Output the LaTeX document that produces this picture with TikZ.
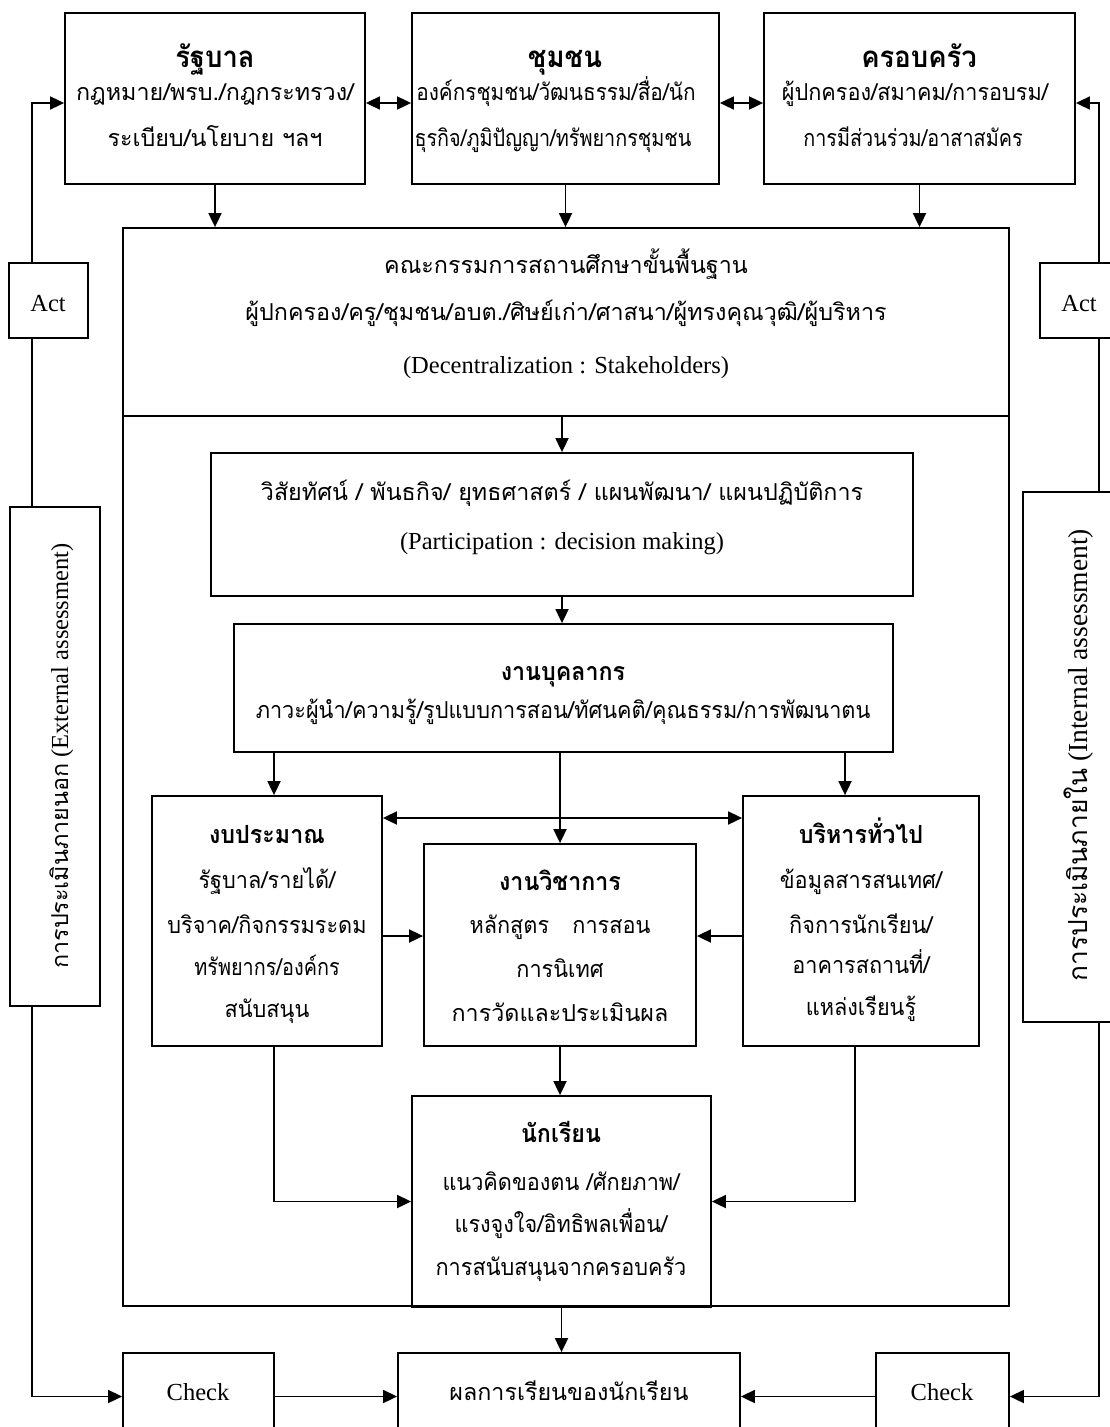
\documentclass[tikz,border=0pt]{standalone}
\usepackage{fontspec}
\setmainfont{Liberation Serif}
\newfontfamily\thai[Script=Thai,FakeStretch=0.93]{Loma}
\newfontfamily\thaim[Script=Thai,FakeStretch=0.89]{Loma}
\newfontfamily\thaic[Script=Thai,FakeStretch=0.85]{Loma}
\newfontfamily\thaiw[Script=Thai]{Loma}
\usetikzlibrary{arrows.meta}
\begin{document}
\begin{tikzpicture}[x=1pt,y=-1pt,
  box/.style={draw,line width=1.8pt,rectangle,inner sep=0pt},
  arr/.style={line width=1.8pt,-{Triangle[length=14pt,width=13pt]}},
  darr/.style={line width=1.8pt,{Triangle[length=14pt,width=13pt]}-{Triangle[length=14pt,width=13pt]}},
  ln/.style={line width=1.8pt},
  th/.style={anchor=base,inner sep=0pt,font=\thai\fontsize{23.3}{27}\selectfont},
  thm/.style={anchor=base,inner sep=0pt,font=\thaim\fontsize{23.3}{27}\selectfont},
  thc/.style={anchor=base,inner sep=0pt,font=\thaic\fontsize{23.3}{27}\selectfont},
  thw/.style={anchor=base,inner sep=0pt,font=\thaiw\fontsize{23.3}{27}\selectfont},
  thb/.style={anchor=base,inner sep=0pt,font=\thai\bfseries\fontsize{25}{29}\selectfont},
  tht/.style={anchor=base,inner sep=0pt,font=\thai\bfseries\fontsize{29.5}{33}\selectfont},
  lat/.style={anchor=base,inner sep=0pt,font=\fontsize{24.5}{28}\selectfont},
]
\useasboundingbox (0,0) rectangle (1109,1427);

% helper coordinates
\coordinate (lx) at (32,0);
\coordinate (rx) at (1099,0);
\coordinate (bx) at (274,0);
\coordinate (ax) at (845,0);
\coordinate (ax2) at (855,0);
\coordinate (dy) at (0,818);
\coordinate (my) at (0,936);

% boxes
\node[box,minimum width=300,minimum height=171] (gov) at (215,98.5) {};
\node[box,minimum width=307,minimum height=171] (com) at (565.5,98.5) {};
\node[box,minimum width=311,minimum height=171] (fam) at (919.5,98.5) {};
\node[box,minimum width=886,minimum height=1078] (big) at (566,767) {};
\node[box,minimum width=886,minimum height=188] (board) at (566,322) {};
\node[box,minimum width=79,minimum height=75] (actL) at (48.5,300.5) {};
\node[box,minimum width=90,minimum height=75] (actR) at (1085,300.5) {};
\node[box,minimum width=90,minimum height=499] (extL) at (55,756.5) {};
\node[box,minimum width=112,minimum height=530] (intR) at (1079,757) {};
\node[box,minimum width=702,minimum height=143] (vis) at (562,524.5) {};
\node[box,minimum width=659,minimum height=128] (pers) at (563.5,688) {};
\node[box,minimum width=230,minimum height=250] (bud) at (267,921) {};
\node[box,minimum width=236,minimum height=250] (adm) at (861,921) {};
\node[box,minimum width=272,minimum height=202] (aca) at (560,945) {};
\node[box,minimum width=299,minimum height=211] (stu) at (561.5,1201.5) {};
\node[box,minimum width=151,minimum height=87] (chkL) at (198.5,1396.5) {};
\node[box,minimum width=342,minimum height=87] (res) at (569,1396.5) {};
\node[box,minimum width=133,minimum height=87] (chkR) at (942.5,1396.5) {};

% texts
\node[tht] at (215,67) {รัฐบาล};
\node[thw] at (215,100) {กฎหมาย/พรบ./กฎกระทรวง/};
\node[thw] at (215,146) {ระเบียบ/นโยบาย ฯลฯ};
\node[tht] at (565,67) {ชุมชน};
\node[thm] at (556,100) {องค์กรชุมชน/วัฒนธรรม/สื่อ/นัก};
\node[thc] at (553,146) {ธุรกิจ/ภูมิปัญญา/ทรัพยากรชุมชน};
\node[tht] at (919,67) {ครอบครัว};
\node[th] at (915,100) {ผู้ปกครอง/สมาคม/การอบรม/};
\node[thc] at (913,146) {การมีส่วนร่วม/อาสาสมัคร};

\node[thw] at (566,273) {คณะกรรมการสถานศึกษาขั้นพื้นฐาน};
\node[thw] at (566,320) {ผู้ปกครอง/ครู/ชุมชน/อบต./ศิษย์เก่า/ศาสนา/ผู้ทรงคุณวุฒิ/ผู้บริหาร};
\node[lat] at (566,373) {(Decentralization : Stakeholders)};

\node[thw] at (562,500) {วิสัยทัศน์ / พันธกิจ/ ยุทธศาสตร์ / แผนพัฒนา/ แผนปฏิบัติการ};
\node[lat] at (562,549) {(Participation : decision making)};

\node[thb] at (563,680) {งานบุคลากร};
\node[th] at (563,718) {ภาวะผู้นำ/ความรู้/รูปแบบการสอน/ทัศนคติ/คุณธรรม/การพัฒนาตน};

\node[thb] at (267,843) {งบประมาณ};
\node[th] at (267,888) {รัฐบาล/รายได้/};
\node[th] at (267,933) {บริจาค/กิจกรรมระดม};
\node[thc] at (267,975) {ทรัพยากร/องค์กร};
\node[th] at (267,1017) {สนับสนุน};

\node[thb] at (560,890) {งานวิชาการ};
\node[th] at (560,933) {หลักสูตร\quad การสอน};
\node[th] at (560,977) {การนิเทศ};
\node[thw] at (560,1021) {การวัดและประเมินผล};

\node[thb] at (861,843) {บริหารทั่วไป};
\node[th] at (861,888) {ข้อมูลสารสนเทศ/};
\node[th] at (861,933) {กิจการนักเรียน/};
\node[th] at (861,973) {อาคารสถานที่/};
\node[th] at (861,1015) {แหล่งเรียนรู้};

\node[thb] at (561,1142) {นักเรียน};
\node[th] at (561,1190) {แนวคิดของตน /ศักยภาพ/};
\node[th] at (561,1232) {แรงจูงใจ/อิทธิพลเพื่อน/};
\node[th] at (561,1275) {การสนับสนุนจากครอบครัว};

\node[thw] at (569,1400) {ผลการเรียนของนักเรียน};
\node[lat] at (198,1400) {Check};
\node[lat] at (942,1400) {Check};
\node[lat] at (48,311) {Act};
\node[lat] at (1079,311) {Act};

\node[anchor=base,inner sep=0pt,rotate=90,font=\fontsize{24.5}{28}\selectfont] (extT) at (68,756) {{\thaiw\fontsize{23.3}{27}\selectfont การประเมินภายนอก} (External assessment)};
\node[anchor=base,inner sep=0pt,rotate=90,font=\fontsize{27.5}{31}\selectfont] (intT) at (1087,755) {{\thaiw\fontsize{26.3}{30}\selectfont การประเมินภายใน} (Internal assessment)};

% connectors
\draw[arr] (lx |- actL.north) |- ([yshift=-4.5pt]gov.west);
\draw[ln] (lx |- actL.south) -- (lx |- extL.north);
\draw[arr] (lx |- extL.south) |- (chkL.west);
\draw[arr] (rx |- actR.north) |- ([yshift=-4.5pt]fam.east);
\draw[ln] (rx |- actR.south) -- (rx |- intR.north);
\draw[arr] (rx |- intR.south) |- (chkR.east);

\draw[darr] ([yshift=-4.5pt]gov.east) -- ([yshift=-4.5pt]com.west);
\draw[darr] ([yshift=-4.5pt]com.east) -- ([yshift=-4.5pt]fam.west);

\draw[arr] (gov.south) -- (gov.south |- big.north);
\draw[arr] (com.south) -- (com.south |- big.north);
\draw[arr] (fam.south) -- (fam.south |- big.north);

\draw[arr] (vis.north |- board.south) -- (vis.north);
\draw[arr] (vis.south) -- (vis.south |- pers.north);
\draw[arr] (bx |- pers.south) -- (bx |- bud.north);
\draw[arr] (aca.north |- pers.south) -- (aca.north);
\draw[arr] (ax |- pers.south) -- (ax |- adm.north);
\draw[darr] (bud.east |- dy) -- (adm.west |- dy);
\draw[arr] (bud.east |- my) -- (aca.west |- my);
\draw[arr] (adm.west |- my) -- (aca.east |- my);
\draw[arr] (bx |- bud.south) |- (stu.west);
\draw[arr] (ax2 |- adm.south) |- (stu.east);
\draw[arr] (aca.south) -- (aca.south |- stu.north);
\draw[arr] (stu.south) -- (stu.south |- res.north);
\draw[arr] (chkL.east) -- (res.west);
\draw[arr] (chkR.west) -- (res.east);
\end{tikzpicture}
\end{document}
